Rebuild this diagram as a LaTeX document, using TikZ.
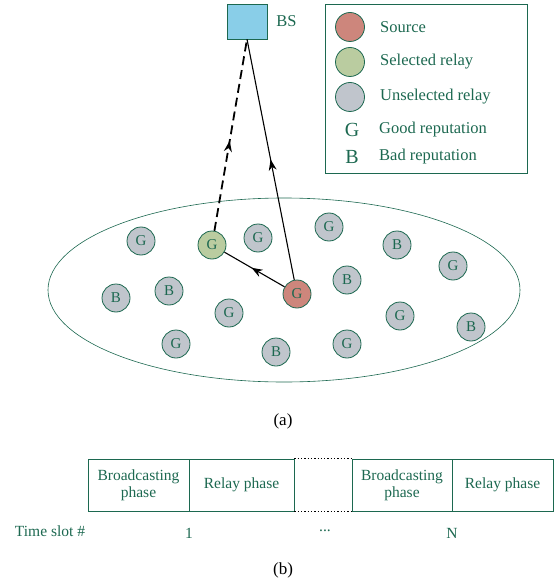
\documentclass[tikz,border=0pt]{standalone}
\usepackage{fontspec}
\setmainfont{Liberation Serif}
\usepackage{xcolor}
\usetikzlibrary{positioning, arrows.meta, decorations.markings}
\definecolor{txtgreen}{RGB}{28,104,80}
\definecolor{relaygray}{RGB}{192,197,204}
\definecolor{srcred}{RGB}{205,134,124}
\definecolor{selgreen}{RGB}{186,204,160}
\definecolor{bsblue}{RGB}{137,206,232}
\tikzset{
    relay/.style={circle, draw=txtgreen, thick, fill=relaygray, minimum size=28pt, inner sep=0pt, text=txtgreen, font=\fontsize{15}{15}\selectfont},
    srcnode/.style={relay, fill=srcred},
    selnode/.style={relay, fill=selgreen},
    legdot/.style={relay, minimum size=29pt},
    legtext/.style={anchor=west, text=txtgreen, inner sep=0pt, font=\fontsize{16.5}{16.5}\selectfont},
    phasebox/.style={draw=txtgreen, thick, minimum height=52pt, inner sep=0pt, align=center, text=txtgreen, font=\fontsize{15.5}{17}\selectfont},
    slotlabel/.style={text=txtgreen, font=\fontsize{15.5}{15.5}\selectfont},
    midarrow/.style={postaction={decorate}, decoration={markings, mark=at position #1 with {\arrow{Stealth[length=11pt,width=8pt]}}}}
}
\begin{document}
\begin{tikzpicture}[x=1pt, y=-1pt]
\useasboundingbox (0,0) rectangle (557,585);
% base station and legend
\node[draw=txtgreen, fill=bsblue, minimum width=40pt, minimum height=35pt, inner sep=0pt] (bs) at (247,21.5) {};
\node[legtext, right=9pt of bs] (bslabel) {BS};
\node[draw=txtgreen, thick, minimum width=202pt, minimum height=169pt] (legend) at (426,88.5) {};
\node[legdot, fill=srcred] (lsrc) at (350,27) {};
\node[legdot, fill=selgreen] (lsel) at (350,62) {};
\node[legdot] (lunsel) at (350,97) {};
\node[text=txtgreen, font=\fontsize{20}{20}\selectfont] (lgood) at (352,130) {G};
\node[text=txtgreen, font=\fontsize{20}{20}\selectfont] (lbad) at (352,157) {B};
\node[legtext] at (380,27) {Source};
\node[legtext] at (380,62) {Selected relay};
\node[legtext] at (380,97) {Unselected relay};
\node[legtext] at (379,130) {Good reputation};
\node[legtext] at (379,157) {Bad reputation};

% cell with relays
\draw[txtgreen, line width=0.6pt] (284,290) ellipse [x radius=236, y radius=92];
\node[relay] (r1) at (141,241) {G};
\node[selnode] (sel) at (212,245) {G};
\node[relay] (r2) at (258,238) {G};
\node[relay] (r3) at (329,227) {G};
\node[relay] (r4) at (397,245) {B};
\node[relay] (r5) at (453,266) {G};
\node[relay] (r6) at (116,298) {B};
\node[relay] (r7) at (169,291) {B};
\node[relay] (r8) at (229,313) {G};
\node[srcnode] (src) at (297,294) {G};
\node[relay] (r9) at (347,280) {B};
\node[relay] (r10) at (400,316) {G};
\node[relay] (r11) at (471,327) {B};
\node[relay] (r12) at (176,344) {G};
\node[relay] (r13) at (276,352) {B};
\node[relay] (r14) at (347,344) {G};

\draw[line width=1.1pt, midarrow=0.55] (src) -- (sel);
\draw[line width=1.1pt, midarrow=0.5] (src) -- (bs.south);
\draw[line width=1.8pt, dash pattern=on 9pt off 5pt, midarrow=0.47] (sel) -- (bs.south);

\node[font=\fontsize{17}{17}\selectfont] (capa) at (283,421) {(a)};

% time slots
\node[phasebox, minimum width=101pt] (bc1) at (138.5,485) {Broadcasting\\phase};
\node[phasebox, minimum width=105pt] (rp1) at (241.5,485) {Relay phase};
\node[phasebox, minimum width=100pt] (bcn) at (402,485) {Broadcasting\\phase};
\node[phasebox, minimum width=101pt] (rpn) at (502.5,485) {Relay phase};
\draw[line width=1.3pt, dotted] (rp1.north east) -- (bcn.north west);
\draw[line width=1.3pt, dotted] (rp1.south east) -- (bcn.south west);

\node[slotlabel] (tslot) at (50,531) {Time slot \#};
\node[slotlabel] (n1) at (189,533) {1};
\node[slotlabel] (ndots) at (325,531) {...};
\node[slotlabel] (nN) at (452,533) {N};

\node[font=\fontsize{17}{17}\selectfont] (capb) at (283,570) {(b)};
\end{tikzpicture}
\end{document}
